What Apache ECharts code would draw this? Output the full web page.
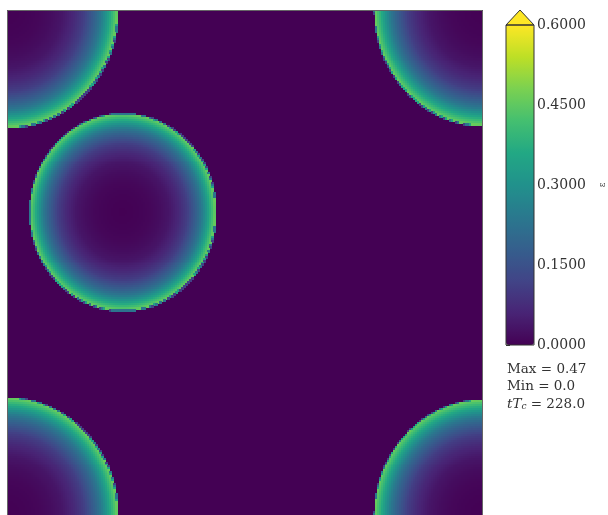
<!DOCTYPE html>
<html><head><meta charset="utf-8">
<script src="https://cdn.jsdelivr.net/npm/echarts@6/dist/echarts.min.js"></script>
<style>html,body{margin:0;padding:0;background:#fff}#c{width:608px;height:515px}</style>
</head><body><div id="c"></div>
<script>
// grid resolution of the field (columns, rows)
const NX = 238, NY = 255;
// circle centres / radii (domain units, x left->right, y top->bottom)
const circleX = [0, 1, 0, 1, 0.243];
const circleY = [0, 0, 1, 1, 0.400];
const circleR = [0.232, 0.228, 0.232, 0.228, 0.195];
// radial profile of epsilon inside a circle (r / R -> value)
const profileR = [0, 0.1, 0.2, 0.3, 0.4, 0.5, 0.6, 0.7, 0.8, 0.85, 0.9, 0.95, 1.0];
const profileV = [0, 0.002, 0.005, 0.01, 0.02, 0.035, 0.065, 0.11, 0.19, 0.24, 0.31, 0.39, 0.47];
// colorbar ticks
const cbTicks = [0, 0.15, 0.30, 0.45, 0.60];
const cbMin = 0, cbMax = 0.6;
// annotation values
const maxVal = 0.47, minVal = 0.0, timeVal = 228.0;
const viridis = ['#440154','#482475','#414487','#355f8d','#2a788e','#21918c','#22a884','#44bf70','#7ad151','#bddf26','#fde725'];

function profileAt(q) {
  for (let k = 1; k < profileR.length; k++) {
    if (q <= profileR[k]) {
      const t = (q - profileR[k-1]) / (profileR[k] - profileR[k-1]);
      return profileV[k-1] + t * (profileV[k] - profileV[k-1]);
    }
  }
  return 0;
}
function fieldAt(x, y) {
  for (let c = 0; c < circleX.length; c++) {
    const d = Math.hypot(x - circleX[c], y - circleY[c]) / circleR[c];
    if (d <= 1) return profileAt(d);
  }
  return 0;
}
const xCats = [], yCats = [];
for (let i = 0; i < NX; i++) xCats.push(i);
for (let j = 0; j < NY; j++) yCats.push(j);
const data = [];
for (let j = 0; j < NY; j++) {
  for (let i = 0; i < NX; i++) {
    // average of 2x2 samples inside the cell
    let v = 0;
    for (const a of [0.25, 0.75]) for (const b of [0.25, 0.75]) v += fieldAt((i + a) / NX, (j + b) / NY);
    data.push([i, j, v / 4]);
  }
}

const G = {left: 7, top: 10, width: 476, height: 510};
const CB = {left: 506, top: 25, width: 28, height: 320};

const chart = echarts.init(document.getElementById('c'), null, {renderer: 'canvas'});
chart.setOption({
  animation: false,
  backgroundColor: '#fff',
  grid: [
    {left: G.left, top: G.top, width: G.width, height: G.height, show: true,
     backgroundColor: viridis[0], borderWidth: 0},
    {left: CB.left, top: CB.top, width: CB.width, height: CB.height, show: false}
  ],
  xAxis: [
    {type: 'category', data: xCats, gridIndex: 0, show: false, boundaryGap: true},
    {type: 'value', gridIndex: 1, show: false, min: 0, max: 1}
  ],
  yAxis: [
    {type: 'category', data: yCats, gridIndex: 0, show: false, inverse: true, boundaryGap: true},
    {type: 'value', gridIndex: 1, position: 'right', min: cbMin, max: cbMax, interval: 0.15,
     axisLine: {show: false},
     axisTick: {show: true, length: 4, lineStyle: {color: '#333', width: 1}},
     axisLabel: {show: true, margin: 3, color: '#333', fontFamily: 'DejaVu Serif', fontSize: 14,
       formatter: v => v.toFixed(4)},
     splitLine: {show: false},
     name: 'ε', nameLocation: 'middle', nameGap: 64, nameRotate: 90,
     nameTextStyle: {fontFamily: 'DejaVu Serif', fontSize: 9, color: '#333'}}
  ],
  visualMap: {
    type: 'continuous', min: cbMin, max: cbMax, seriesIndex: 0, dimension: 2,
    show: true, calculable: false, text: null, showLabel: false,
    left: CB.left, top: CB.top, itemWidth: CB.width, itemHeight: CB.height,
    padding: 0, orient: 'vertical',
    inRange: {color: viridis}
  },
  series: [{
    type: 'custom', xAxisIndex: 0, yAxisIndex: 0, data: data,
    progressive: 0, silent: true, clip: true,
    encode: {x: 0, y: 1},
    renderItem: function (params, api) {
      if (api.value(2) <= 0) return null;
      const c = api.coord([api.value(0), api.value(1)]);
      const s = api.size([1, 1]);
      const x0 = Math.round(c[0] - s[0] / 2), y0 = Math.round(c[1] - s[1] / 2);
      return {
        type: 'rect',
        shape: {x: x0, y: y0, width: Math.round(s[0]) + 1, height: Math.round(s[1]) + 1},
        style: {fill: api.visual('color'), stroke: null}
      };
    }
  }],
  graphic: [
    {type: 'rect', z: 100, silent: true,
     shape: {x: G.left + 0.5, y: G.top + 0.5, width: G.width - 1, height: G.height},
     style: {fill: 'none', stroke: '#666', lineWidth: 1}},
    {type: 'polygon', z: 100, silent: true,
     shape: {points: [[CB.left, CB.top], [CB.left + CB.width / 2, CB.top - 15], [CB.left + CB.width, CB.top]]},
     style: {fill: viridis[viridis.length - 1], stroke: '#333', lineWidth: 1}},
    {type: 'rect', z: 100, silent: true,
     shape: {x: CB.left, y: CB.top, width: CB.width, height: CB.height},
     style: {fill: 'none', stroke: '#333', lineWidth: 1}},
    {type: 'text', z: 100, left: 507, top: 362, silent: true,
     style: {
       text: '{n|Max = ' + maxVal.toFixed(2) + '}\n{n|Min = ' + minVal.toFixed(1) + '}\n{i|tT}{s|c}{n| = ' + timeVal.toFixed(1) + '}',
       rich: {
         n: {fontFamily: 'DejaVu Serif', fontSize: 13.5, lineHeight: 17.5, fill: '#333'},
         i: {fontFamily: 'DejaVu Serif', fontStyle: 'italic', fontSize: 13.5, lineHeight: 17.5, fill: '#333'},
         s: {fontFamily: 'DejaVu Serif', fontStyle: 'italic', fontSize: 9, lineHeight: 17.5, fill: '#333', padding: [6, 0, 0, 0]}
       }
     }}
  ]
});
</script></body></html>
